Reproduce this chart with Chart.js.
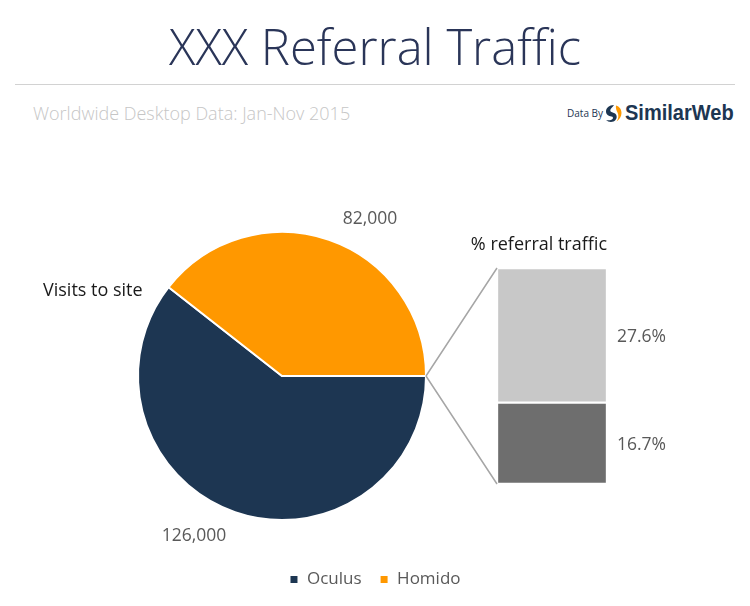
<!DOCTYPE html>
<html><head><meta charset="utf-8">
<script src="https://cdn.jsdelivr.net/npm/chart.js@4.4.1/dist/chart.umd.min.js"></script>
<style>
html,body{margin:0;padding:0;background:#fff;}
#wrap{position:relative;width:750px;height:606px;overflow:hidden;font-family:"Open Sans",sans-serif;}
#title{position:absolute;left:0;width:750px;top:16px;text-align:center;font-weight:300;font-size:49px;color:#2a3558;line-height:60px;white-space:nowrap;}
#rule{position:absolute;left:15px;width:720px;top:84px;height:1px;background:#d2d2d2;}
#sub{position:absolute;left:33px;top:100px;font-weight:300;font-size:18px;color:#c6c6c6;line-height:26px;white-space:nowrap;}
#databy{position:absolute;left:567px;top:106px;font-size:10px;color:#1d3652;line-height:14px;}
#logoicon{position:absolute;left:604px;top:104px;}
#sw{position:absolute;left:625px;top:99px;font-family:"Liberation Sans",Arial,sans-serif;font-weight:bold;font-size:22px;color:#1d3652;line-height:28px;white-space:nowrap;transform:scaleX(0.91);transform-origin:0 0;}
#pie{position:absolute;left:0;top:0;}
#bar{position:absolute;left:400px;top:230px;}
</style></head>
<body>
<div id="wrap">
  <div id="title">XXX Referral Traffic</div>
  <div id="rule"></div>
  <div id="sub">Worldwide Desktop Data: Jan-Nov 2015</div>
  <div id="databy">Data By</div>
  <svg id="logoicon" width="19" height="19" viewBox="0 0 19 19">
    <path d="M10 1 C5 1 2 4 2 7.5 C2 10.5 4.5 12 7.5 12.5 C9 12.8 9.5 13.8 8.5 15 C7.5 16.2 5 16.5 2 16 C4 18 7 18.5 9.5 17.5 C12.5 16.2 13.5 13 12 10.5 C11 9 9 8.5 7.5 8 C6 7.5 5.8 5.5 7.5 4 C8.5 3 9.5 2 10 1 Z" fill="#1d3652"/>
    <path d="M12 1.5 C15.5 2.5 17.5 5.5 17.5 9 C17.5 12.5 15.5 15.5 12.5 17.5 C14.5 14.5 15 11.5 13.5 8.5 C12.5 6.5 11.5 4 12 1.5 Z" fill="#ff9900"/>
  </svg>
  <div id="sw">SimilarWeb</div>
  <canvas id="pie" width="750" height="606"></canvas>
  <canvas id="bar" width="350" height="280"></canvas>
</div>
<script>
// ---- data ----
const pieLabels = ['Oculus', 'Homido'];
const pieValues = [126000, 82000];
const pieColors = ['#1d3652', '#ff9800'];
const pieTitle = 'Visits to site';

const barSeriesNames = ['Oculus', 'Homido'];   // stacked bottom -> top
const barValues = [16.7, 27.6];
const barColors = ['#6e6e6e', '#c8c8c8'];
const barTitle = '% referral traffic';

const fmtNum = v => v.toLocaleString('en-US');
const FONT = '"Open Sans", sans-serif';

// ---- pie ----
const pieLabelPlugin = {
  id: 'pieLabels',
  beforeDraw(chart) {
    // centre the legend on the whole page rather than the pie
    const lg = chart.legend;
    if (lg) { lg.left = 0; lg.right = chart.width; lg.width = chart.width; }
  },
  afterDatasetsDraw(chart) {
    const ctx = chart.ctx;
    const meta = chart.getDatasetMeta(0);
    ctx.save();
    ctx.font = '17.5px ' + FONT;
    ctx.fillStyle = '#595959';
    ctx.textAlign = 'center';
    ctx.textBaseline = 'middle';
    meta.data.forEach((arc, i) => {
      const mid = (arc.startAngle + arc.endAngle) / 2 + 0.176;
      const r = arc.outerRadius + 37;
      ctx.fillText(fmtNum(pieValues[i]), arc.x + r * Math.cos(mid), arc.y + 1.5 + r * Math.sin(mid));
    });
    const a0 = meta.data[0];
    ctx.font = '18px ' + FONT;
    ctx.fillStyle = '#1a1a1a';
    ctx.textAlign = 'left';
    ctx.fillText(pieTitle, a0.x - 239, a0.y - 85);
    ctx.restore();
  }
};

const pieChart = new Chart(document.getElementById('pie'), {
  type: 'pie',
  data: {
    labels: pieLabels,
    datasets: [{
      data: pieValues,
      backgroundColor: pieColors,
      borderColor: '#ffffff',
      borderWidth: 2
    }]
  },
  options: {
    responsive: false,
    animation: false,
    rotation: 90,
    layout: { padding: { left: 137, right: 323, top: 199, bottom: 8 } },
    plugins: {
      tooltip: { enabled: false },
      legend: {
        position: 'bottom',
        labels: {
          boxWidth: 9, boxHeight: 9,
          color: '#595959',
          font: { family: FONT, size: 17 },
          padding: 18
        }
      }
    }
  },
  plugins: [pieLabelPlugin]
});

// ---- stacked bar ----
const barPlugin = {
  id: 'barExtras',
  afterDatasetsDraw(chart) {
    const ctx = chart.ctx;
    const segs = chart.data.datasets.map((d, i) => chart.getDatasetMeta(i).data[0]);
    const top = segs[segs.length - 1];
    const bottom = segs[0];
    const left = top.x - top.width / 2;
    const right = top.x + top.width / 2;
    ctx.save();
    // connector lines from pie's edge
    const arc = pieChart.getDatasetMeta(0).data[0];
    const cv = chart.canvas;
    const px = arc.x + arc.outerRadius - cv.offsetLeft;
    const py = arc.y - cv.offsetTop;
    ctx.strokeStyle = '#a6a6a6';
    ctx.lineWidth = 1.5;
    ctx.beginPath();
    ctx.moveTo(px, py); ctx.lineTo(left, top.y);
    ctx.moveTo(px, py); ctx.lineTo(left, bottom.base);
    ctx.stroke();
    // value labels
    ctx.font = '17.5px ' + FONT;
    ctx.fillStyle = '#595959';
    ctx.textAlign = 'left';
    ctx.textBaseline = 'middle';
    segs.forEach((s, i) => {
      ctx.fillText(barValues[i].toFixed(1) + '%', right + 10, (s.y + s.base) / 2 + 1.5);
    });
    // title
    ctx.font = '18px ' + FONT;
    ctx.fillStyle = '#1a1a1a';
    ctx.textAlign = 'right';
    ctx.fillText(barTitle, right, top.y - 23.5);
    ctx.restore();
  }
};

new Chart(document.getElementById('bar'), {
  type: 'bar',
  data: {
    labels: [''],
    datasets: barValues.map((v, i) => ({
      label: barSeriesNames[i],
      data: [v],
      backgroundColor: barColors[i],
      borderColor: '#ffffff',
      borderWidth: 1.5,
      borderSkipped: false,
      barPercentage: 1,
      categoryPercentage: 1
    }))
  },
  options: {
    responsive: false,
    animation: false,
    layout: { padding: { left: 97, right: 143, top: 38, bottom: 26 } },
    scales: {
      x: { stacked: true, display: false },
      y: { stacked: true, display: false, min: 0, max: barValues.reduce((a, b) => a + b, 0) }
    },
    plugins: { legend: { display: false }, tooltip: { enabled: false } }
  },
  plugins: [barPlugin]
});
</script>
</body></html>
